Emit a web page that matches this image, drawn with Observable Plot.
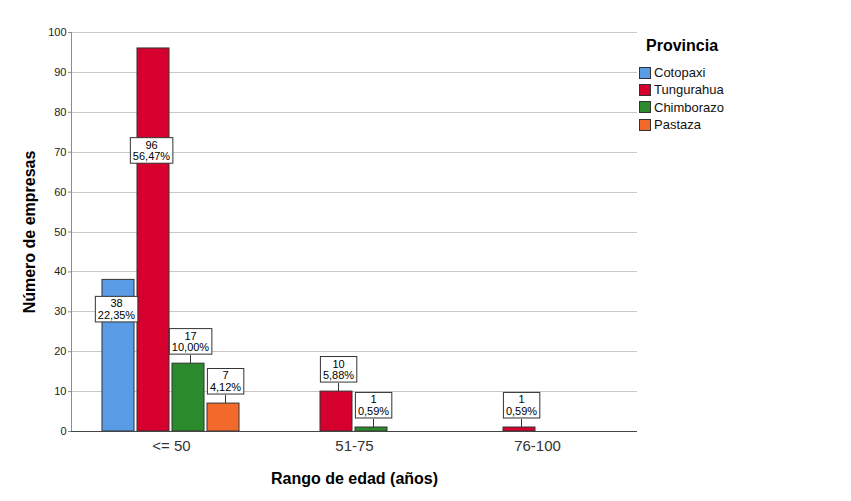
<!DOCTYPE html>
<html><head><meta charset="utf-8">
<script src="https://cdn.jsdelivr.net/npm/d3@7"></script>
<script src="https://cdn.jsdelivr.net/npm/@observablehq/plot@0.6"></script>
<style>
body{margin:0;background:#fff;font-family:"Liberation Sans",Arial,sans-serif;}
#wrap{position:relative;width:851px;height:501px;}
#legend{position:absolute;left:639px;top:37px;font-family:"Liberation Sans",Arial,sans-serif;}
#legend .t{font-weight:bold;font-size:16px;margin:0 0 9px 7px;color:#000;}
#legend .it{display:flex;align-items:center;height:17.3px;font-size:13px;color:#111;}
#legend .sw{width:12px;height:12px;border:1px solid #333;margin-right:3px;box-sizing:border-box;}
g[aria-label="y-axis label"] text, g[aria-label="fx-axis label"] text{font-size:16px;font-weight:bold;fill:#000;}
</style></head><body><div id="wrap"></div>
<script>
const ages = ["<= 50", "51-75", "76-100"];
const provincias = ["Cotopaxi", "Tungurahua", "Chimborazo", "Pastaza"];
const colors = ["#5a9be6", "#d6002f", "#2b8a2b", "#f26a2b"];
const cotopaxi = [38, 0, 0];
const tungurahua = [96, 10, 1];
const chimborazo = [17, 1, 0];
const pastaza = [7, 0, 0];
const yTicks = [0, 10, 20, 30, 40, 50, 60, 70, 80, 90, 100];

const series = [cotopaxi, tungurahua, chimborazo, pastaza];
const data = ages.flatMap((a, i) => provincias.map((p, j) => ({age: a, prov: p, n: series[j][i]})));
const total = d3.sum(data, d => d.n);
const bars = data.filter(d => d.n > 0);
const fmtPct = v => (v / total * 100).toFixed(2).replace(".", ",") + "%";
bars.forEach(d => { d.label = d.n + "\n" + fmtPct(d.n); });
const inside = bars.filter(d => d.n > 20);
const outside = bars.filter(d => d.n <= 20);
// label placement rule for tall bars (inside the bar)
const insideY = d => d.n > 50 ? d.n * 0.733 : d.n * 0.805;

const ext = -28; // extend facet-local lines across the gaps between groups

const chart = Plot.plot({
  width: 851, height: 501,
  marginLeft: 70, marginRight: 214, marginTop: 32, marginBottom: 70,
  style: {fontFamily: "'Liberation Sans', Arial, sans-serif", background: "#fff"},
  fx: {domain: ages, paddingInner: 0.215, paddingOuter: 0.1525, label: "Rango de edad (años)"},
  x: {domain: provincias, paddingInner: 0.083, paddingOuter: 0.042, axis: null},
  y: {domain: [0, 100], label: "Número de empresas"},
  color: {domain: provincias, range: colors},
  marks: [
    Plot.ruleY(yTicks.slice(1), {stroke: "#c8c8c8", strokeWidth: 1, insetLeft: ext, insetRight: ext, shapeRendering: "crispEdges"}),
    Plot.frame({anchor: "left", stroke: "#8c8c8c", strokeOpacity: 1, dx: ext, facetAnchor: "left"}),
    Plot.axisY({ticks: yTicks, tickSize: 3, tickPadding: 2, fontSize: 11, stroke: "#8c8c8c", color: "#222", dx: ext,
      label: "Número de empresas", labelAnchor: "center", labelArrow: "none", labelOffset: 76}),
    Plot.barY(bars, {fx: "age", x: "prov", y: "n", fill: "prov", stroke: "#333", strokeWidth: 1}),
    Plot.ruleY([0], {stroke: "#444", insetLeft: ext, insetRight: ext, shapeRendering: "crispEdges"}),
    Plot.ruleX(outside, {fx: "age", x: "prov", y1: "n", y2: "n", insetTop: -8, dx: 2, stroke: "#333"}),
    Plot.text(outside, {fx: "age", x: "prov", y: "n", text: "label", dx: 2, dy: -22, fontSize: 11, lineHeight: 1.05, fill: "#000", className: "lbl"}),
    Plot.text(inside, {fx: "age", x: "prov", y: insideY, text: "label", dx: -2, fontSize: 11, lineHeight: 1.05, fill: "#000", className: "lbl"}),
    Plot.axisFx({anchor: "bottom", tickSize: 0, tickPadding: 9, fontSize: 15, color: "#333",
      label: "Rango de edad (años)", labelAnchor: "center", labelArrow: "none", labelOffset: 52})
  ]
});

const wrap = document.getElementById("wrap");
wrap.appendChild(chart);

// white boxes with black border behind the data labels
chart.querySelectorAll(".lbl text").forEach(t => {
  const b = t.getBBox();
  const r = document.createElementNS("http://www.w3.org/2000/svg", "rect");
  r.setAttribute("x", b.x - 2.5);
  r.setAttribute("y", b.y - 1);
  r.setAttribute("width", b.width + 5);
  r.setAttribute("height", b.height + 2);
  r.setAttribute("fill", "#fff");
  r.setAttribute("stroke", "#333");
  r.setAttribute("stroke-width", 1);
  if (t.getAttribute("transform")) r.setAttribute("transform", t.getAttribute("transform"));
  t.parentNode.insertBefore(r, t);
});

// legend
const lg = document.createElement("div");
lg.id = "legend";
lg.innerHTML = `<div class="t">Provincia</div>` + provincias.map((p, i) =>
  `<div class="it"><div class="sw" style="background:${colors[i]}"></div>${p}</div>`).join("");
wrap.appendChild(lg);
</script>
</body></html>
